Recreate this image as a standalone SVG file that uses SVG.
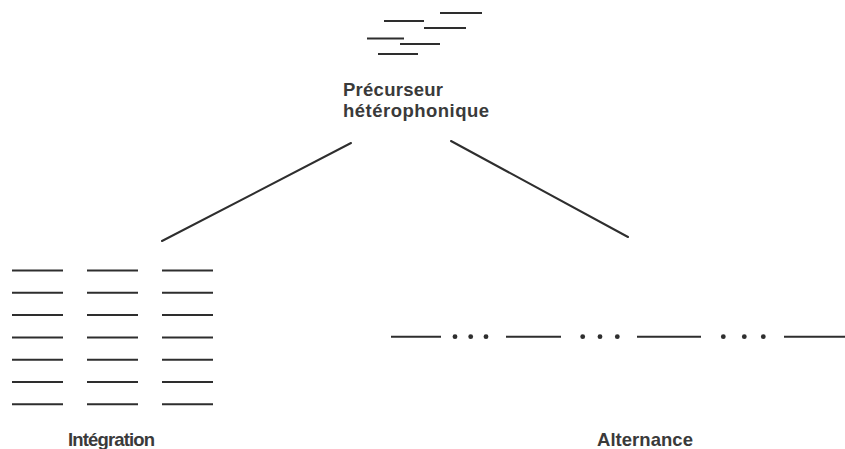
<svg xmlns="http://www.w3.org/2000/svg" width="845" height="449" viewBox="0 0 845 449">
  <style>
    .bar { stroke: #2e2e2e; stroke-width: 2; fill: none; }
    .edge { stroke: #2e2e2e; stroke-width: 2; fill: none; stroke-linecap: round; }
    .dot { fill: #2e2e2e; }
    .label { font-family: "Liberation Sans", Arial, sans-serif; font-weight: bold; font-size: 18.5px; fill: #3a3a3a; }
  </style>

  <!-- heterophonic precursor: scattered short voices -->
  <g id="precursor">
    <line class="bar" x1="440" y1="13" x2="482" y2="13"/>
    <line class="bar" x1="384" y1="21" x2="424" y2="21"/>
    <line class="bar" x1="424" y1="28" x2="466" y2="28"/>
    <line class="bar" x1="367" y1="38.5" x2="404" y2="38.5"/>
    <line class="bar" x1="400" y1="44" x2="440" y2="44"/>
    <line class="bar" x1="378" y1="54" x2="418" y2="54"/>
    <text class="label" x="343" y="96" textLength="100" lengthAdjust="spacing">Précurseur</text>
    <text class="label" x="343" y="117" textLength="146" lengthAdjust="spacing">hétérophonique</text>
  </g>

  <!-- branches -->
  <g id="connectors">
    <line class="edge" x1="162" y1="241" x2="351" y2="143"/>
    <line class="edge" x1="451" y1="141" x2="628" y2="237"/>
  </g>

  <!-- integration: three stacked columns of voices -->
  <g id="integration">
    <g class="bar">
      <line x1="12" y1="270.5" x2="63" y2="270.5"/><line x1="87" y1="270.5" x2="138" y2="270.5"/><line x1="162" y1="270.5" x2="213" y2="270.5"/>
      <line x1="12" y1="292.8" x2="63" y2="292.8"/><line x1="87" y1="292.8" x2="138" y2="292.8"/><line x1="162" y1="292.8" x2="213" y2="292.8"/>
      <line x1="12" y1="315.1" x2="63" y2="315.1"/><line x1="87" y1="315.1" x2="138" y2="315.1"/><line x1="162" y1="315.1" x2="213" y2="315.1"/>
      <line x1="12" y1="337.4" x2="63" y2="337.4"/><line x1="87" y1="337.4" x2="138" y2="337.4"/><line x1="162" y1="337.4" x2="213" y2="337.4"/>
      <line x1="12" y1="359.7" x2="63" y2="359.7"/><line x1="87" y1="359.7" x2="138" y2="359.7"/><line x1="162" y1="359.7" x2="213" y2="359.7"/>
      <line x1="12" y1="382" x2="63" y2="382"/><line x1="87" y1="382" x2="138" y2="382"/><line x1="162" y1="382" x2="213" y2="382"/>
      <line x1="12" y1="404.3" x2="63" y2="404.3"/><line x1="87" y1="404.3" x2="138" y2="404.3"/><line x1="162" y1="404.3" x2="213" y2="404.3"/>
    </g>
    <text class="label" x="68" y="445.5" textLength="87" lengthAdjust="spacing">Intégration</text>
  </g>

  <!-- alternation: single line of segments separated by ellipses -->
  <g id="alternance">
    <line class="bar" x1="391" y1="336.7" x2="441" y2="336.7"/>
    <line class="bar" x1="506" y1="336.7" x2="561" y2="336.7"/>
    <line class="bar" x1="637" y1="336.7" x2="701" y2="336.7"/>
    <line class="bar" x1="784" y1="336.7" x2="845" y2="336.7"/>
    <circle class="dot" cx="455" cy="336.7" r="2.4"/>
    <circle class="dot" cx="470.7" cy="336.7" r="2.4"/>
    <circle class="dot" cx="486" cy="336.7" r="2.4"/>
    <circle class="dot" cx="582.7" cy="336.7" r="2.4"/>
    <circle class="dot" cx="600" cy="336.7" r="2.4"/>
    <circle class="dot" cx="617.3" cy="336.7" r="2.4"/>
    <circle class="dot" cx="723.3" cy="336.7" r="2.4"/>
    <circle class="dot" cx="744.3" cy="336.7" r="2.4"/>
    <circle class="dot" cx="763.3" cy="336.7" r="2.4"/>
    <text class="label" x="597" y="445.5" textLength="96" lengthAdjust="spacing">Alternance</text>
  </g>
</svg>
